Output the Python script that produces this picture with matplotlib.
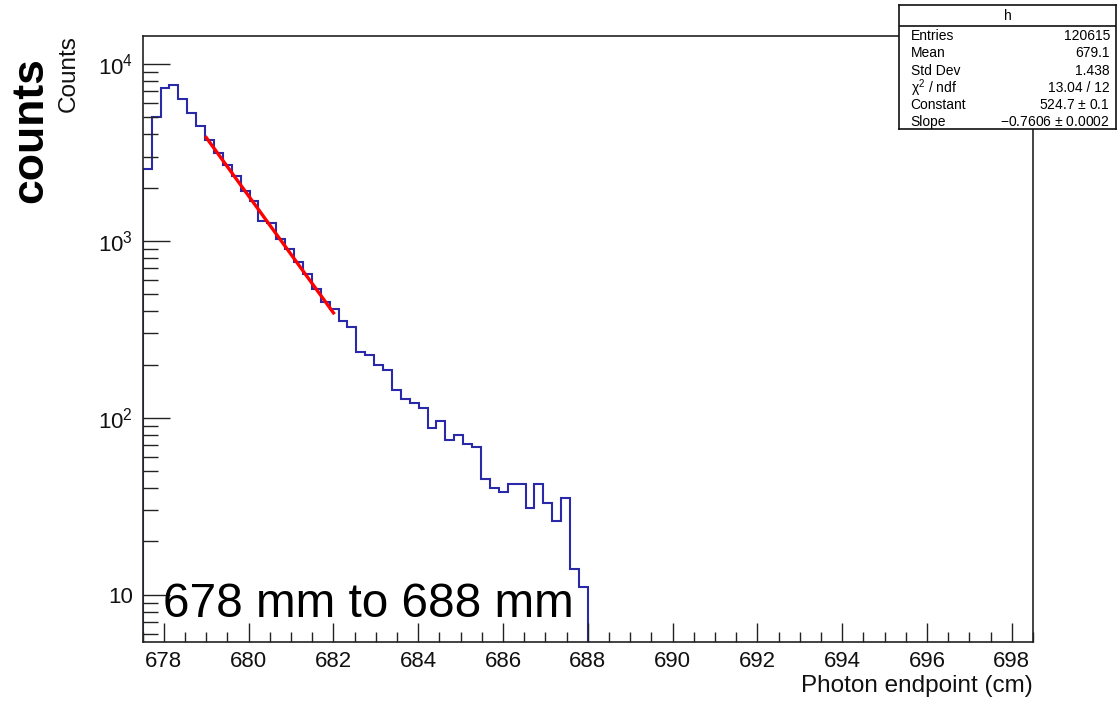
import numpy as np
import matplotlib
matplotlib.use("Agg")
import matplotlib.pyplot as plt
from matplotlib.ticker import LogLocator, MultipleLocator, NullFormatter

# ---------------- data ----------------
bin_low = 677.5
bin_high = 688.0
n_bins = 50
counts = [2547, 5012, 7316, 7638, 6339, 5284, 4437, 3697, 3138, 2693,
          2335, 1903, 1671, 1304, 1261, 1024, 899, 755, 649, 534,
          449, 411, 353, 325, 236, 227, 199, 187, 144, 127,
          122, 114, 87, 96, 75, 80, 71, 68, 45, 40,
          38, 42, 42, 31, 42, 33, 26, 35, 14, 11]
fit_const = 524.7
fit_slope = -0.7606
fit_range = (679.0, 682.0)

stat_names = ["Entries", "Mean", "Std Dev", r"$\chi^{2}$ / ndf", "Constant", "Slope"]
stat_values = ["120615", "679.1", "1.438", "13.04 / 12",
               r"524.7 $\pm$ 0.1", r"$-$0.7606 $\pm$ 0.0002"]

x_ticks = [678, 680, 682, 684, 686, 688, 690, 692, 694, 696, 698]
y_ticks = [10, 100, 1000, 10000]
y_ticklabels = ["10", r"$10^{2}$", r"$10^{3}$", r"$10^{4}$"]

# ---------------- style ----------------
plt.rcParams["font.family"] = ["Liberation Sans", "DejaVu Sans"]
plt.rcParams["mathtext.fontset"] = "custom"
plt.rcParams["mathtext.rm"] = "Liberation Sans"
plt.rcParams["mathtext.it"] = "Liberation Sans:italic"
plt.rcParams["mathtext.default"] = "regular"

W, H = 1117, 701
fig = plt.figure(figsize=(W / 100, H / 100), dpi=100)
ax_l, ax_r, ax_t, ax_b = 142.7, 1033.0, 35.5, 641.7
ax = fig.add_axes([ax_l / W, 1 - ax_b / H, (ax_r - ax_l) / W, (ax_b - ax_t) / H])

edges = np.linspace(bin_low, bin_high, n_bins + 1)
ax.stairs(counts, edges, baseline=1.0, color="#2a2aa8", linewidth=1.5)

xf = np.linspace(fit_range[0], fit_range[1], 200)
ax.plot(xf, np.exp(fit_const + fit_slope * xf), color="#ff0000", linewidth=2.4)

ax.set_yscale("log")
ax.set_xlim(677.5, 698.5)
ax.set_ylim(5.42, 14500)

ax.set_xticks(x_ticks)
ax.set_xticklabels([str(t) for t in x_ticks])
ax.xaxis.set_minor_locator(MultipleLocator(0.5))
ax.set_yticks(y_ticks)
ax.set_yticklabels(y_ticklabels)
ax.yaxis.set_minor_locator(LogLocator(base=10, subs=np.arange(2, 10)))
ax.yaxis.set_minor_formatter(NullFormatter())

ax.tick_params(axis="x", which="major", direction="in", length=13.7, width=1.0,
               labelsize=16, pad=7, top=False, colors="#222222", labelcolor="#111111")
ax.tick_params(axis="x", which="minor", direction="in", length=7.2, width=1.0, top=False,
               colors="#222222")
ax.tick_params(axis="y", which="major", direction="in", length=19.4, width=1.0,
               labelsize=16, pad=7, right=False, colors="#222222", labelcolor="#111111")
ax.tick_params(axis="y", which="minor", direction="in", length=10.8, width=1.0, right=False,
               colors="#222222")
for s in ax.spines.values():
    s.set_linewidth(1.2)
    s.set_color("#222222")

ax.set_xlabel("Photon endpoint (cm)", fontsize=17.5, loc="right", color="#111111", labelpad=2)
ax.set_ylabel("Counts", fontsize=17.5, loc="top", color="#111111")
ax.yaxis.set_label_coords((80 - ax_l) / (ax_r - ax_l), 1.0)

# annotation text
fig.text(163 / W, 1 - 617 / H, "678 mm to 688 mm", fontsize=34.4, va="baseline", ha="left",
         color="black")
fig.text(31 / W, 1 - 130 / H, "counts", fontsize=32, fontweight="bold", rotation=90,
         va="center", ha="center", color="black")

# stats box
bx0, bx1, by0, by1, bh = 899.0, 1116.0, 5.0, 129.0, 25.5
box_ax = fig.add_axes([bx0 / W, 1 - by1 / H, (bx1 - bx0) / W, (by1 - by0) / H])
box_ax.set_xlim(bx0, bx1)
box_ax.set_ylim(by1, by0)
box_ax.set_xticks([])
box_ax.set_yticks([])
box_ax.set_facecolor("white")
for s in box_ax.spines.values():
    s.set_linewidth(1.2)
    s.set_color("#111111")
box_ax.axhline(bh, color="#111111", linewidth=1.2)
box_ax.text((bx0 + bx1) / 2, (by0 + bh) / 2 + 1, "h", fontsize=10, ha="center", va="center")
row_y = [36, 53.3, 70.6, 88, 105.2, 122]
for yy, nm, vv in zip(row_y, stat_names, stat_values):
    box_ax.text(910.7, yy, nm, fontsize=10, ha="left", va="center")
    box_ax.text(1110.0, yy, vv, fontsize=10, ha="right", va="center")

fig.savefig("out.png", dpi=100)
